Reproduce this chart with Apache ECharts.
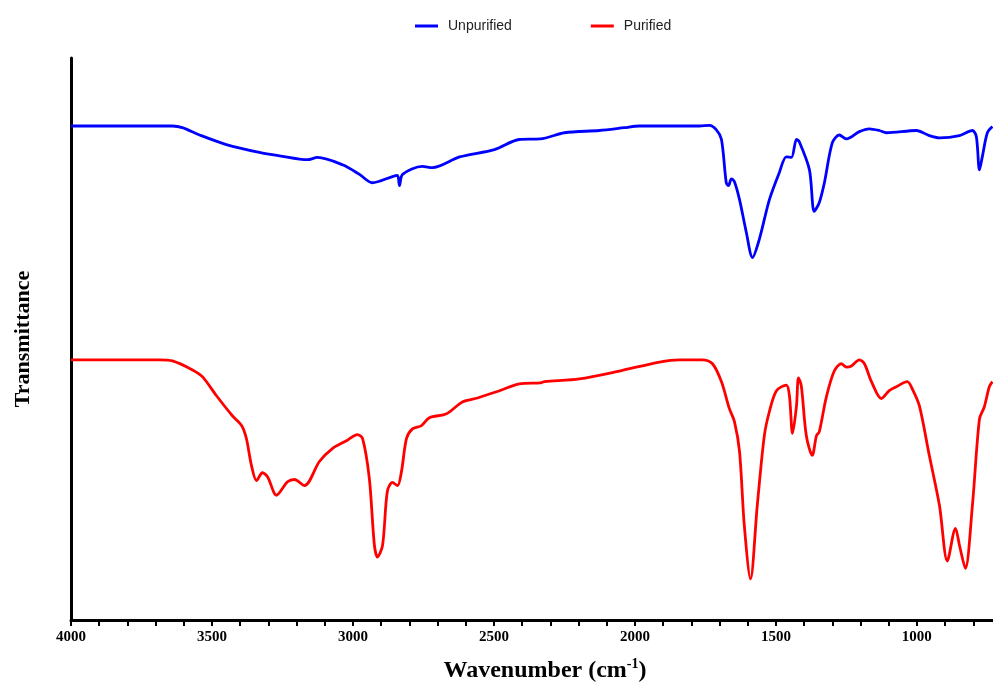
<!DOCTYPE html>
<html>
<head>
<meta charset="utf-8">
<script src="https://cdn.jsdelivr.net/npm/echarts@6/dist/echarts.min.js"></script>
<style>
html,body{margin:0;padding:0;background:#fff;}
#chart{width:993px;height:688px;}
</style>
</head>
<body>
<div id="chart"></div>
<script>
// Wavenumber (cm-1) and transmittance (arbitrary units)
const unpurifiedWavenumber = [4000,3640,3605,3544,3449,3332,3261,3161,3126,3037,2977,2931,2860,2842,2835,2824,2754,2718,2622,2498,2410,2335,2250,2126,2037,1984,1771,1736,1711,1693,1676,1668,1658,1647,1629,1605,1583,1559,1523,1488,1463,1445,1427,1417,1381,1364,1346,1328,1300,1275,1250,1204,1169,1133,1108,1002,956,920,849,803,789,778,768,750,732];
const unpurifiedT = [87.9,87.9,87.6,86.3,84.6,83.2,82.6,81.9,82.3,81.0,79.3,77.8,78.9,79.1,77.3,79.3,80.7,80.5,82.4,83.7,85.5,85.6,86.7,87.1,87.6,87.9,87.9,88.0,87.2,85.5,77.8,77.3,78.5,78.0,74.8,69.0,64.5,67.7,74.8,79.6,82.4,82.3,85.5,85.1,80.1,72.7,74.3,77.8,84.9,86.3,85.6,86.9,87.4,87.1,86.7,87.1,86.2,85.8,86.2,87.1,86.0,80.1,82.4,86.7,87.8];

const purifiedWavenumber = [4000,3686,3640,3569,3534,3484,3427,3395,3378,3360,3342,3321,3303,3271,3232,3207,3172,3119,3073,3023,2984,2966,2942,2924,2913,2895,2878,2860,2842,2828,2810,2789,2757,2729,2668,2612,2558,2480,2410,2335,2321,2197,2055,1913,1842,1761,1725,1693,1665,1647,1629,1612,1590,1566,1541,1523,1498,1463,1452,1441,1427,1420,1410,1392,1371,1356,1346,1321,1293,1268,1250,1232,1204,1186,1161,1126,1098,1073,1034,1016,991,956,920,892,863,849,828,803,778,761,743,732];
const purifiedT = [46.3,46.3,46.1,44.5,43.3,39.9,36.3,34.6,32.3,27.5,24.8,26.2,25.5,22.2,24.6,25.0,23.9,28.2,30.5,31.9,33.0,32.3,25.2,13.3,11.2,13.3,22.9,24.5,23.9,26.4,32.3,34.0,34.6,36.0,36.7,38.8,39.5,40.8,42.0,42.2,42.4,42.9,44.3,45.9,46.3,46.3,45.6,42.4,37.6,35.3,30.0,16.8,7.3,20.4,32.8,37.1,40.8,41.8,39.9,33.2,38.1,43.1,41.7,32.8,29.3,32.8,33.5,39.7,44.3,45.6,45.0,45.2,46.3,45.6,42.4,39.4,40.8,41.5,42.4,41.1,38.1,29.3,20.4,10.5,16.3,13.3,9.2,20.4,35.8,37.9,41.5,42.4];

const xTickLabels = [4000,3500,3000,2500,2000,1500,1000];
const seriesNames = ['Unpurified','Purified'];
const seriesColors = ['#0000ff','#ff0000'];

const minorTicks = [];
for (let v = 4000; v >= 800; v -= 100) minorTicks.push(v);

function pairs(xs, ys){ return xs.map((x,i)=>[x, ys[i]]); }

const serif = "'Liberation Serif','Times New Roman',serif";
const chart = echarts.init(document.getElementById('chart'), null, {renderer:'canvas'});
chart.setOption({
  animation: false,
  backgroundColor: '#fff',
  legend: {
    top: 14, left: 410,
    itemGap: 79,
    itemWidth: 23, itemHeight: 3,
    icon: 'rect',
    textStyle: {fontFamily: "'Liberation Sans',Arial,sans-serif", fontSize: 14, color: '#222', padding:[0,0,0,5]},
    data: seriesNames
  },
  grid: {left: 71, right: 0, top: 58, bottom: 64, containLabel: false},
  xAxis: {
    type: 'value', inverse: true, min: 730, max: 4000,
    axisLine: {show: true, lineStyle: {color: '#000', width: 3}},
    axisTick: {show: true, customValues: minorTicks, length: 6, lineStyle: {color: '#000', width: 2}},
    axisLabel: {customValues: xTickLabels, formatter: v => String(v), fontFamily: serif, fontWeight: 'bold', fontSize: 15, color: '#000', margin: 10},
    splitLine: {show: false},
    name: '{a|Wavenumber (cm}{s|-1}{a|)}',
    nameLocation: 'middle', nameGap: 37,
    nameTextStyle: {
      padding: [0,0,0,26],
      rich: {
        a: {fontFamily: serif, fontWeight: 'bold', fontSize: 24, color: '#000', lineHeight: 28},
        s: {fontFamily: serif, fontWeight: 'bold', fontSize: 14, color: '#000', verticalAlign: 'top', lineHeight: 28, padding:[0,0,12,0]}
      }
    }
  },
  yAxis: {
    type: 'value', min: 0, max: 100,
    axisLine: {show: true, lineStyle: {color: '#000', width: 3}},
    axisTick: {show: false},
    axisLabel: {show: false},
    splitLine: {show: false},
    name: 'Transmittance', nameLocation: 'middle', nameGap: 37, nameRotate: 90,
    nameTextStyle: {fontFamily: serif, fontWeight: 'bold', fontSize: 22, color: '#000'}
  },
  series: [
    {name: seriesNames[0], type: 'line', data: pairs(unpurifiedWavenumber, unpurifiedT), symbol: 'none', smooth: 0.3,
     lineStyle: {color: seriesColors[0], width: 2.8}, itemStyle: {color: seriesColors[0]}},
    {name: seriesNames[1], type: 'line', data: pairs(purifiedWavenumber, purifiedT), symbol: 'none', smooth: 0.3,
     lineStyle: {color: seriesColors[1], width: 2.8}, itemStyle: {color: seriesColors[1]}}
  ]
});
</script>
</body>
</html>
